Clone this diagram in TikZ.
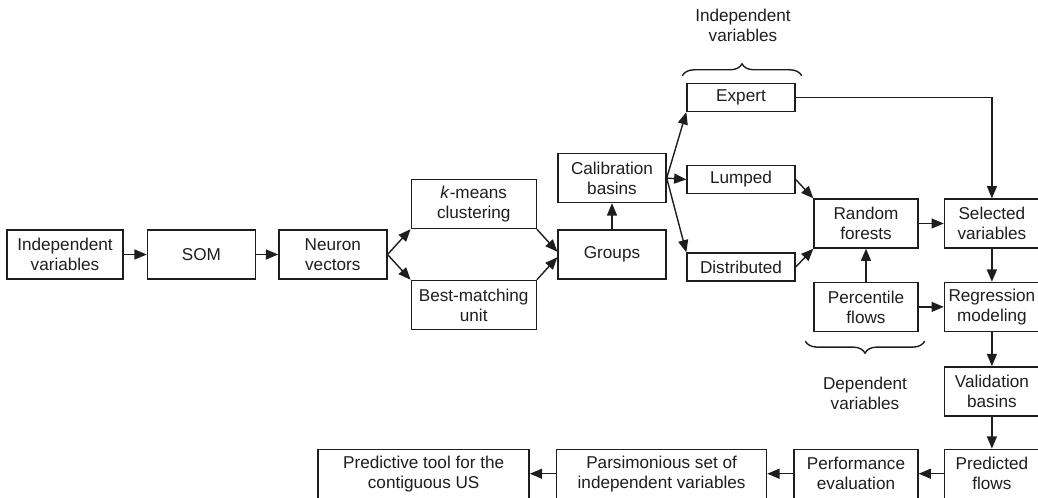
\documentclass[tikz,border=0pt]{standalone}
\usepackage{fontspec}
\setmainfont{Liberation Sans}
\usepackage{tikz}
\usetikzlibrary{arrows, positioning, calc, decorations.pathreplacing}
\definecolor{linecolor}{RGB}{30,30,30}

\begin{document}
\begin{tikzpicture}[
    box/.style={rectangle, draw=linecolor, line width=1pt, minimum width=2.7cm, minimum height=1.225cm, inner sep=1pt, align=center, font=\fontsize{12.2}{14.2}\selectfont, text=linecolor},
    thinbox/.style={box, minimum height=0.7cm},
    arrow/.style={->, >=triangle 45, line width=1pt, draw=linecolor},
    bracetext/.style={align=center, font=\fontsize{12.2}{14.2}\selectfont, text=linecolor},
    curly/.style={decorate, decoration={brace, amplitude=0.3cm}, line width=1pt, draw=linecolor}
]
    \useasboundingbox (0,0) rectangle (25.95,-12.45);

    % Main row
    \node[box, minimum width=2.9cm] (indep) at (1.625,-6.3625) {Independent\\variables};
    \node[box, right=0.575cm of indep] (som) {SOM};
    \node[box, right=0.55cm of som] (neuron) {Neuron\\vectors};

    % Clustering
    \node[box, minimum width=3.125cm, anchor=south west, xshift=0.575cm] (kmeans) at (neuron.north east) {\textit{k}-means\\clustering};
    \node[box, minimum width=3.125cm, anchor=north west, xshift=0.575cm] (bmu) at (neuron.south east) {Best-matching\\unit};
    \node[box] (groups) at (15.3,-6.3625) {Groups};
    \node[box, above=0.65cm of groups] (calib) {Calibration\\basins};

    % Independent variables
    \node[thinbox] (expert) at (18.525,-2.4375) {Expert};
    \node[thinbox] (lumped) at (18.525,-4.4875) {Lumped};
    \node[thinbox] (distrib) at (18.525,-6.675) {Distributed};

    % Random forests and regression
    \node[box, minimum width=2.6cm] (forest) at (21.65,-5.5875) {Random\\forests};
    \node[box, minimum width=2.375cm, right=0.625cm of forest] (selected) {Selected\\variables};
    \node[box, minimum width=2.6cm, below=0.825cm of forest] (pctl) {Percentile\\flows};
    \node[box, minimum width=2.375cm, below=0.825cm of selected] (regress) {Regression\\modeling};
    \node[box, minimum width=2.375cm, below=0.85cm of regress] (valid) {Validation\\basins};
    \node[box, minimum width=2.375cm, below=0.8cm of valid] (predicted) {Predicted\\flows};

    % Bottom row
    \node[box, minimum width=3.1cm, left=0.625cm of predicted] (perf) {Performance\\evaluation};
    \node[box, minimum width=5.25cm, left=0.65cm of perf] (parsim) {Parsimonious set of\\independent variables};
    \node[box, minimum width=5.275cm, left=0.65cm of parsim] (tool) {Predictive tool for the\\contiguous US};

    % Braces
    \draw[curly] ($(expert.north west)+(-0.1,0.175)$) -- coordinate (toptip) ($(expert.north east)+(0.15,0.175)$);
    \node[bracetext] (indeplab) at (18.575,-0.625) {Independent\\variables};
    \draw[curly] ($(pctl.south east)+(0.15,-0.225)$) -- coordinate (bottip) ($(pctl.south west)+(-0.2,-0.225)$);
    \node[bracetext] (deplab) at (21.625,-9.825) {Dependent\\variables};

    % Arrows
    \draw[arrow] (indep) -- (som);
    \draw[arrow] (som) -- (neuron);
    \draw[arrow] (neuron.east) -- (kmeans.south west);
    \draw[arrow] (neuron.east) -- (bmu.north west);
    \draw[arrow] (kmeans.south east) -- ([yshift=2pt]groups.west);
    \draw[arrow] (bmu.north east) -- ([yshift=-2pt]groups.west);
    \draw[arrow] (groups) -- (calib);
    \draw[arrow] (calib.east) -- (expert.south west);
    \draw[arrow] (calib.east) -- (lumped.west);
    \draw[arrow] (calib.east) -- (distrib.north west);
    \draw[arrow] (lumped.east) -- (forest.north west);
    \draw[arrow] (distrib.east) -- (forest.south west);
    \draw[arrow] (expert.east) -| (selected.north);
    \draw[arrow] (forest) -- (selected);
    \draw[arrow] (pctl) -- (forest);
    \draw[arrow] (pctl) -- (regress);
    \draw[arrow] (selected) -- (regress);
    \draw[arrow] (regress) -- (valid);
    \draw[arrow] (valid) -- (predicted);
    \draw[arrow] (predicted) -- (perf);
    \draw[arrow] (perf) -- (parsim);
    \draw[arrow] (parsim) -- (tool);

\end{tikzpicture}
\end{document}
